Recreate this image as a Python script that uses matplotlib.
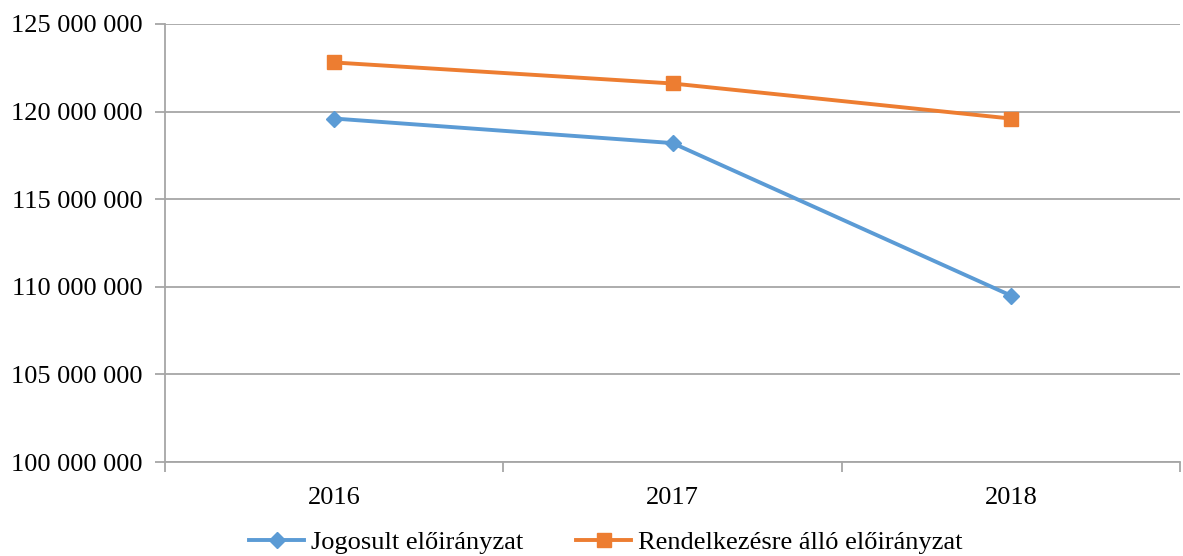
import matplotlib
matplotlib.use("Agg")
import matplotlib.pyplot as plt
import numpy as np

# adatok
years = ["2016", "2017", "2018"]
jogosult = [119600000, 118200000, 109500000]
rendelkezesre = [122800000, 121600000, 119600000]
labels = ["Jogosult előirányzat", "Rendelkezésre álló előirányzat"]

plt.rcParams['font.family'] = ['Liberation Serif', 'DejaVu Serif']

fig = plt.figure(figsize=(11.83, 5.56), dpi=100)
ax = fig.add_axes([0.1395, 0.169, 0.858, 0.788])

x = np.arange(len(years))
grid_c = "#A6A6A6"

l1, = ax.plot(x, jogosult, color="#5B9BD5", lw=2.8, marker="D", ms=8, zorder=3)
l2, = ax.plot(x, rendelkezesre, color="#ED7D31", lw=2.8, marker="s", ms=10, zorder=3)

ax.set_ylim(100000000, 125000000)
ax.set_xlim(-0.5, 2.5)
yt = np.arange(100000000, 125000001, 5000000)
ax.set_yticks(yt)
ax.set_yticklabels(["{:,}".format(v).replace(",", " ") for v in yt], fontsize=19)
ax.yaxis.grid(True, color=grid_c, lw=1.3)
ax.set_axisbelow(True)

# x tengely: osztásjelek a kategóriák között
ax.set_xticks(x)
ax.set_xticklabels(years, fontsize=19)
ax.tick_params(axis='x', length=0, pad=18)
ax.set_xticks(np.arange(-0.5, 2.6, 1), minor=True)
ax.tick_params(axis='x', which='minor', length=7, color=grid_c, width=1.3)
ax.tick_params(axis='y', length=7, color=grid_c, width=1.3, pad=9)

for s in ["top", "right"]:
    ax.spines[s].set_visible(False)
ax.spines["left"].set_color(grid_c)
ax.spines["bottom"].set_color(grid_c)
ax.spines["left"].set_linewidth(1.3)
ax.spines["bottom"].set_linewidth(1.3)

fig.legend([l1, l2], labels, loc="center", bbox_to_anchor=(0.512, 0.024), ncol=2,
           frameon=False, fontsize=19, handlelength=2.1, columnspacing=2.0,
           handletextpad=0.25, borderaxespad=0)

fig.savefig("out.png", dpi=100)
